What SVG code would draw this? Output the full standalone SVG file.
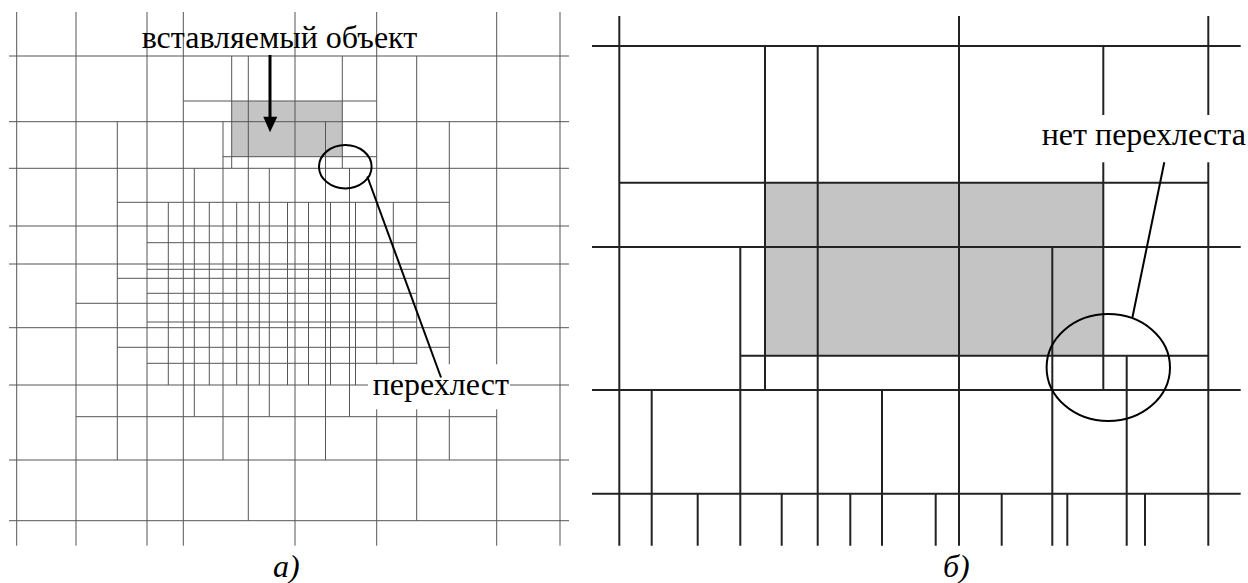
<svg xmlns="http://www.w3.org/2000/svg" width="1248" height="583" viewBox="0 0 1248 583">
  <style>
    .fine { stroke: #555; stroke-width: 1; fill: none; }
    .bold { stroke: #222; stroke-width: 2; fill: none; }
    .obj { fill: #c4c4c4; stroke: none; }
    .call { stroke: #000; stroke-width: 2; fill: none; }
    .lbl { font-family: "Liberation Serif", "DejaVu Serif", serif; font-size: 32px; fill: #000; }
    .cap { font-family: "Liberation Serif", "DejaVu Serif", serif; font-size: 32px; font-style: italic; fill: #000; }
    .bg { fill: #fff; stroke: none; }
  </style>

  <!-- (a) overlapping refined mesh with inserted object -->
  <g id="mesh-a">
    <rect class="obj" x="231.7" y="101" width="110.6" height="55.7"/>
    <path class="fine" d="
      M16.7 12V545.7 M76 12V545.7 M147 12V545.7 M183.3 12V545.7 M295 12V545.7 M376.7 12V545.7 M496.7 12V545.7 M560 12V545.7
      M248.3 56V520.7 M416.7 56V520.7
      M231.7 56V168.3 M342.3 56V168.3
      M117.3 121.7V460 M223 121.7V460 M325.5 121.7V460 M449.3 121.7V460
      M194.3 168.3V416.7 M269.3 168.3V416.7 M349.5 168.3V416.7
      M168.3 202.3V385 M209.3 202.3V385 M236.7 202.3V385 M259.3 202.3V385 M287.5 202.3V385
      M308.5 202.3V385 M330.5 202.3V385 M355.5 202.3V385 M393.3 202.3V385
      M9 56H569 M9 121.7H569 M9 168.3H569 M9 226H569 M9 264H569 M9 327.7H569 M9 385H569 M9 460H569 M9 520.7H569
      M76 303.3H496.7 M76 416.7H496.7
      M117.3 202.3H449.3 M117.3 278.3H449.3 M117.3 347.3H449.3
      M147 242.7H416.7 M147 269.3H416.7 M147 293.3H416.7 M147 322H416.7 M147 363.3H416.7
      M183.3 101H376.7
      M222.7 156.7H376.7"/>
  </g>

  <!-- (b) conforming mesh with inserted object -->
  <g id="mesh-b">
    <rect class="obj" x="765" y="182.7" width="338.3" height="173"/>
    <path class="bold" d="
      M592 46H1240.7 M619.3 182.7H1208.3 M592 247H1240.7 M740.3 355.7H1208.3 M592 390H1240.7 M592 493.7H1240.7
      M619.3 16V545.7 M959 16V545.7 M1208.3 16V545.7
      M817.7 46V545.7 M765 46V390 M1103.3 46V390
      M740.3 247V545.7 M1052.3 247V545.7 M1126.7 355.7V545.7
      M651.7 390V545.7 M882 390V545.7
      M697.7 493.7V545.7 M781.7 493.7V545.7 M850.3 493.7V545.7 M935.7 493.7V545.7
      M1001.7 493.7V545.7 M1067.3 493.7V545.7 M1145 493.7V545.7"/>
  </g>

  <!-- label backgrounds mask the grid under the callout texts -->
  <rect class="bg" x="368" y="364.3" width="142" height="45"/>
  <rect class="bg" x="1036" y="115" width="210" height="47.3"/>

  <!-- callouts -->
  <g id="connectors">
    <line x1="270" y1="55" x2="270" y2="118" stroke="#000" stroke-width="3"/>
    <polygon points="263.3,116.7 277.3,116.7 270,132.3" fill="#000"/>
    <ellipse class="call" cx="345.3" cy="166.7" rx="26.3" ry="21.7"/>
    <line class="call" x1="367.3" y1="176.5" x2="441" y2="377.5"/>
    <ellipse class="call" cx="1108.3" cy="367.5" rx="61.7" ry="53.5"/>
    <line class="call" x1="1132.3" y1="318" x2="1164.3" y2="162.3"/>
  </g>

  <g id="labels">
    <text class="lbl" x="141.7" y="48">вставляемый объект</text>
    <text class="lbl" x="372.7" y="395">перехлест</text>
    <text class="lbl" x="1041.7" y="145">нет перехлеста</text>
    <text class="cap" x="273" y="577">а)</text>
    <text class="cap" x="943" y="577">б)</text>
  </g>
</svg>
